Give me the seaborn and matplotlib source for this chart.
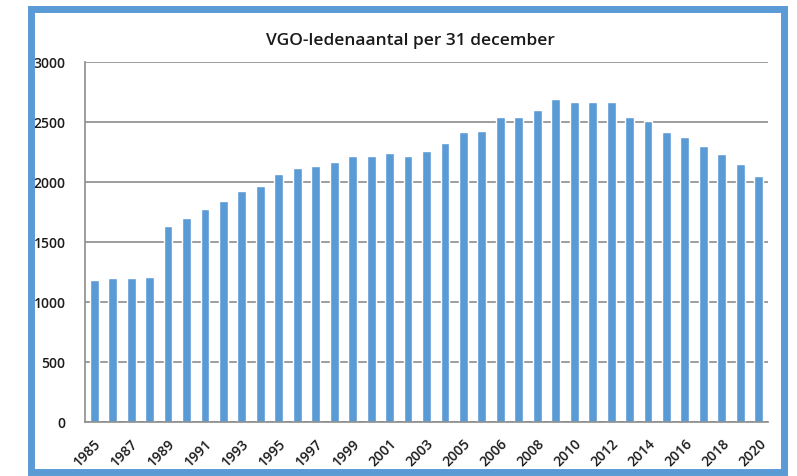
import numpy as np
import pandas as pd
import seaborn as sns
from matplotlib import pyplot as plt
from matplotlib.patches import Rectangle

# VGO members per 31 December (37 bars, one year appears twice around 2005/2006)
years = ['1985', '1986', '1987', '1988', '1989', '1990', '1991', '1992', '1993', '1994',
         '1995', '1996', '1997', '1998', '1999', '2000', '2001', '2002', '2003', '2004',
         '2005', '2005b', '2006', '2007', '2008', '2009', '2010', '2011', '2012', '2013',
         '2014', '2015', '2016', '2017', '2018', '2019', '2020']
members = [1190, 1200, 1200, 1215, 1635, 1705, 1780, 1845, 1930, 1970,
           2065, 2120, 2135, 2165, 2215, 2215, 2245, 2215, 2260, 2330,
           2415, 2430, 2540, 2540, 2600, 2695, 2665, 2665, 2665, 2540,
           2510, 2415, 2375, 2305, 2235, 2150, 2055]
tick_labels = ['1985', '1987', '1989', '1991', '1993', '1995', '1997', '1999', '2001', '2003',
               '2005', '2006', '2008', '2010', '2012', '2014', '2016', '2018', '2020']
y_ticks = [0, 500, 1000, 1500, 2000, 2500, 3000]

blue = '#5b9bd5'
grey = '#8c8c8c'
text_col = '#1a1a1a'

sns.set_theme(style='white')
plt.rcParams['font.family'] = ['Open Sans', 'DejaVu Sans']

df = pd.DataFrame({'jaar': years, 'leden': members})

fig = plt.figure(figsize=(7.97, 4.76), dpi=100)
ax = fig.add_axes([0.1066, 0.1124, 0.8570, 0.7573])
sns.barplot(data=df, x='jaar', y='leden', order=years, color=blue, saturation=1,
            width=0.48, ax=ax)

ax.set_xlim(-0.5, len(years) - 0.5)
ax.set_ylim(0, 3000)
ax.set_yticks(y_ticks)
ax.set_yticklabels([str(v) for v in y_ticks], fontsize=10, color=text_col, fontweight=600)
ax.set_xticks(range(0, len(years), 2))
ax.set_xticklabels(tick_labels, rotation=45, ha='right', rotation_mode='anchor',
                   fontsize=10, color=text_col, fontweight=600)
ax.tick_params(axis='both', length=0)
ax.tick_params(axis='x', pad=10)
ax.tick_params(axis='y', pad=14)
ax.set_xlabel('')
ax.set_ylabel('')

ax.yaxis.grid(True, color=grey, linewidth=1.2)
ax.set_axisbelow(True)
for side in ['top', 'right']:
    ax.spines[side].set_visible(False)
for side in ['left', 'bottom']:
    ax.spines[side].set_color(grey)
    ax.spines[side].set_linewidth(1.2)

fig.text(0.515, 0.914, 'VGO-ledenaantal per 31 december', ha='center', va='center',
         fontsize=12.5, color=text_col, fontweight=600)

# blue frame around the chart
fig.patches.append(Rectangle((31 / 797, 4.5 / 476), 752.5 / 797, 462.5 / 476,
                             transform=fig.transFigure, fill=False,
                             edgecolor=blue, linewidth=5))

fig.savefig('out.png', dpi=100)
